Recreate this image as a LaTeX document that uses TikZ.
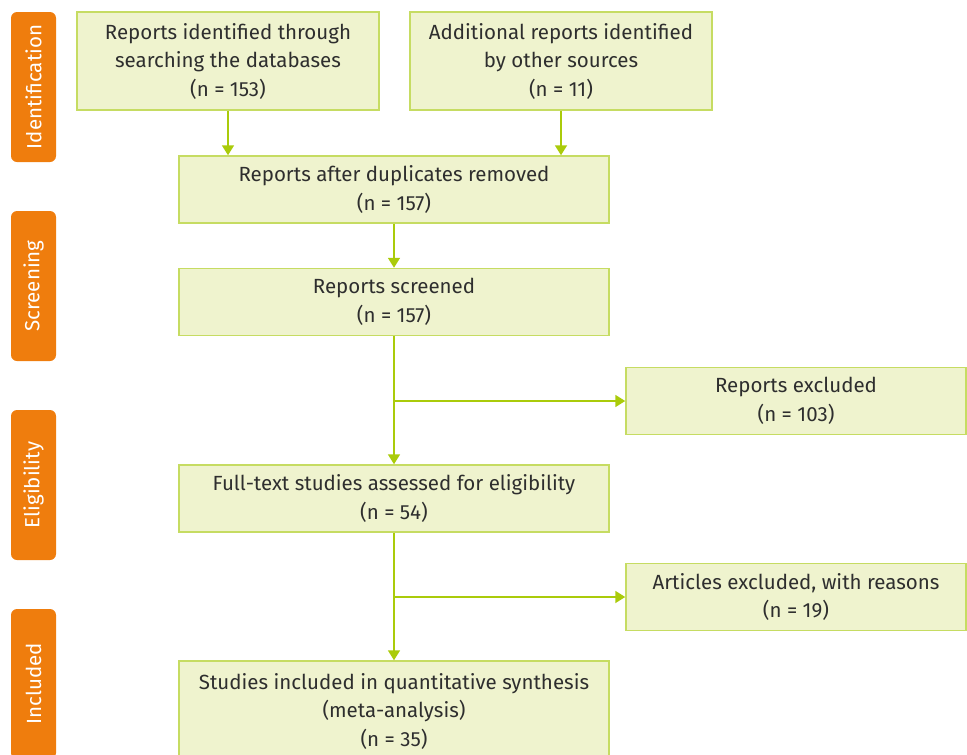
\documentclass[tikz,border=0pt]{standalone}
\usepackage{fontspec}
\setmainfont{Fira Sans}
\usetikzlibrary{arrows.meta,positioning}
\definecolor{boxfill}{HTML}{EFF3CE}
\definecolor{boxline}{HTML}{C6DC62}
\definecolor{flowline}{HTML}{AACB0A}
\definecolor{phase}{HTML}{EF7D0D}
\definecolor{txt}{HTML}{2E2E2E}

\begin{document}
\begin{tikzpicture}[x=1pt, y=-1pt,
  >={Triangle[width=12pt,length=10pt]},
  box/.style={draw=boxline, line width=1.5pt, fill=boxfill, text=txt,
    align=center, inner sep=0pt,
    font=\fontsize{20.5}{28.5}\selectfont},
  phasebox/.style={fill=phase, rounded corners=6pt, text=white, rotate=90,
    minimum width=150, minimum height=45, inner sep=0pt,
    font=\fontsize{20.5}{24}\selectfont},
  flow/.style={draw=flowline, line width=1.8pt}]
  \useasboundingbox (0,0) rectangle (967,755);
  \clip (0,0) rectangle (967,755);

  %% Phase labels on the left
  \foreach \y/\lbl/\nm in {87/Identification/ident, 286/Screening/screen,
      485/Eligibility/elig, 684/Included/incl}{
    \node[phasebox] (\nm) at (33.5,\y) {\lbl};
  }

  %% Identification
  \node[box, minimum width=302, minimum height=98] (dbs) at (228,61)
    {Reports identified through\\searching the databases\\(n = 153)};
  \node[box, minimum width=302, minimum height=98] (other) at (561,61)
    {Additional reports identified\\by other sources\\(n = 11)};
  \node[box, minimum width=430, minimum height=67] (dedup) at (394,189.5)
    {Reports after duplicates removed\\(n = 157)};

  %% Screening
  \node[box, minimum width=430, minimum height=67] (screened) at (394,302)
    {Reports screened\\(n = 157)};
  \node[box, minimum width=340, minimum height=67] (excl1) at (796,401)
    {Reports excluded\\(n = 103)};

  %% Eligibility
  \node[box, minimum width=430, minimum height=67] (fulltext) at (394,498.5)
    {Full-text studies assessed for eligibility\\(n = 54)};
  \node[box, minimum width=340, minimum height=67] (excl2) at (796,597)
    {Articles excluded, with reasons\\(n = 19)};

  %% Included
  \node[box, minimum width=430, minimum height=100] (result) at (394,711)
    {Studies included in quantitative synthesis\\(meta-analysis)\\(n = 35)};

  %% Connectors
  \draw[flow,->] (dbs.south) -- (dbs.south |- dedup.north);
  \draw[flow,->] (other.south) -- (other.south |- dedup.north);
  \draw[flow,->] (dedup.south) -- (screened.north);
  \draw[flow,->] (screened.south) -- (fulltext.north);
  \draw[flow,->] (screened.south |- excl1.west) -- (excl1.west);
  \draw[flow,->] (fulltext.south) -- (result.north);
  \draw[flow,->] (fulltext.south |- excl2.west) -- (excl2.west);
\end{tikzpicture}
\end{document}
